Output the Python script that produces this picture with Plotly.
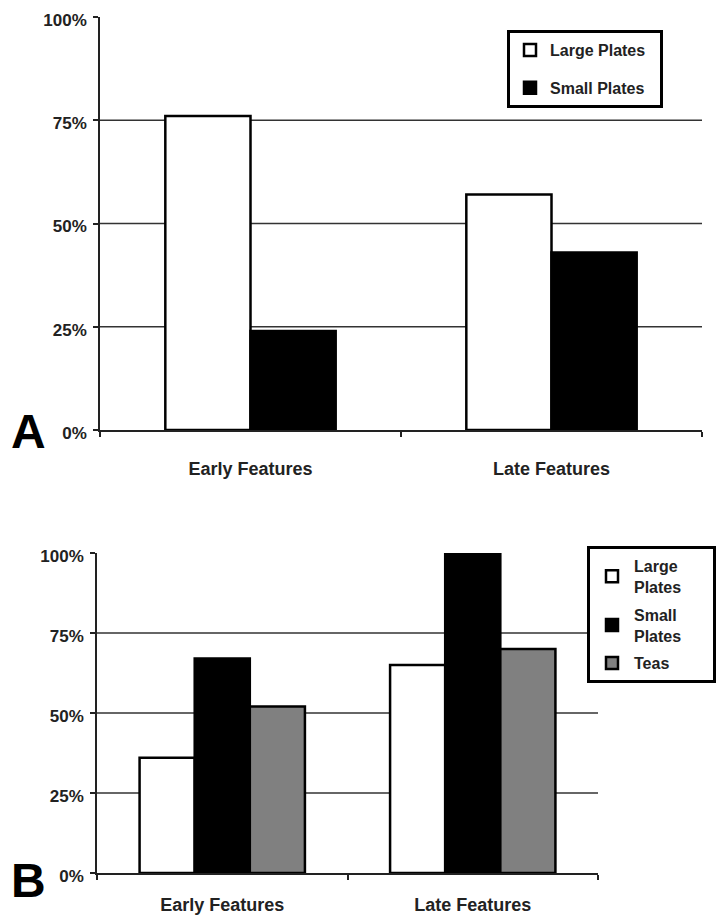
import plotly.graph_objects as go

# ---- data ----
categories = ["Early Features", "Late Features"]
a_large = [76, 57]
a_small = [24, 43]
b_large = [36, 65]
b_small = [67, 100]
b_teas = [52, 70]
y_tickvals = [0, 25, 50, 75, 100]
y_ticktext = ["0%", "25%", "50%", "75%", "100%"]
grid_vals = [25, 50, 75]

OFF = 8  # page body margin
W, H = 725 - OFF, 917 - OFF
FONT = "Liberation Sans"
TXT = "#222222"
NB = "&nbsp;"


def px_x(p):
    return (p - OFF) / W


def px_y(p):
    return 1 - (p - OFF) / H


fig = go.Figure()

wa = 0.283
fig.add_trace(go.Bar(x=categories, y=a_large, name="Large Plates", width=wa, offset=-wa,
                     marker=dict(color="white", line=dict(color="black", width=2.5)),
                     xaxis="x", yaxis="y", legend="legend", legendgroup="a1"))
fig.add_trace(go.Bar(x=categories, y=a_small, name="Small Plates", width=wa, offset=0,
                     marker=dict(color="black", line=dict(color="black", width=2.5)),
                     xaxis="x", yaxis="y", legend="legend", legendgroup="a2"))

wb = 0.22
fig.add_trace(go.Bar(x=categories, y=b_large, name="Large<br>Plates", width=wb, offset=-1.5 * wb,
                     marker=dict(color="white", line=dict(color="black", width=2.5)),
                     xaxis="x2", yaxis="y2", legend="legend2", legendgroup="b1"))
fig.add_trace(go.Bar(x=categories, y=b_small, name="Small<br>Plates", width=wb, offset=-0.5 * wb,
                     marker=dict(color="black", line=dict(color="black", width=2.5)),
                     xaxis="x2", yaxis="y2", legend="legend2", legendgroup="b2"))
fig.add_trace(go.Bar(x=categories, y=b_teas, name="Teas", width=wb, offset=0.5 * wb,
                     marker=dict(color="#808080", line=dict(color="black", width=2.5)),
                     xaxis="x2", yaxis="y2", legend="legend2", legendgroup="b3"))

for tr in fig.data:
    pad = NB * 2 if tr.legend == "legend" else NB * 6
    tr.name = "<b>" + tr.name.replace("<br>", "</b><br><b>") + "</b>" + pad

yaxis_common = dict(range=[0, 100], tickmode="array", tickvals=y_tickvals,
                    ticktext=[f"<b>{t}</b>" for t in y_ticktext],
                    showgrid=False, zeroline=False, showline=True, linecolor=TXT, linewidth=1.5,
                    ticks="outside", ticklen=5, tickwidth=1.5, tickcolor=TXT,
                    tickfont=dict(family=FONT, size=17, color=TXT), ticklabelstandoff=3,
                    ticklabelshift=3,
                    ticklabeloverflow="allow", automargin=False, fixedrange=True)
xaxis_common = dict(type="category", range=[-0.5, 1.5], showline=True, linecolor=TXT, linewidth=1.5,
                    ticks="outside", tickson="boundaries", ticklen=5, tickwidth=1.5, tickcolor=TXT,
                    showgrid=False, zeroline=False, automargin=False,
                    tickmode="array", tickvals=categories,
                    ticktext=[f"<b>{c}</b>" for c in categories],
                    tickfont=dict(family=FONT, size=18, color=TXT))

shapes = []
for yref in ["y", "y2"]:
    xref = "x domain" if yref == "y" else "x2 domain"
    for v in grid_vals:
        shapes.append(dict(type="line", xref=xref, yref=yref, x0=0, x1=1, y0=v, y1=v,
                           layer="below", line=dict(color="#333333", width=1.4)))

fig.update_layout(
    width=W, height=H,
    margin=dict(l=0, r=0, t=0, b=0, autoexpand=False),
    paper_bgcolor="white", plot_bgcolor="white",
    barmode="overlay",
    xaxis=dict(domain=[px_x(100), px_x(702)], anchor="y", ticklabelstandoff=22, **xaxis_common),
    yaxis=dict(domain=[px_y(430), px_y(17)], anchor="x", **yaxis_common),
    xaxis2=dict(domain=[px_x(97), px_x(598)], anchor="y2", ticklabelstandoff=15, **xaxis_common),
    yaxis2=dict(domain=[px_y(873), px_y(553)], anchor="x2", **yaxis_common),
    shapes=shapes,
    legend=dict(x=px_x(507), y=px_y(30), xanchor="left", yanchor="top",
                bgcolor="white", bordercolor="black", borderwidth=3,
                font=dict(family=FONT, size=16, color=TXT), tracegroupgap=14,
                itemwidth=30),
    legend2=dict(x=px_x(587), y=px_y(546), xanchor="left", yanchor="top",
                 bgcolor="white", bordercolor="black", borderwidth=3,
                 font=dict(family=FONT, size=16, color=TXT), tracegroupgap=4,
                 itemwidth=34),
    annotations=[
        dict(text="<b>A</b>", x=px_x(9), y=px_y(431), xref="paper", yref="paper",
             xanchor="left", yanchor="middle", showarrow=False,
             font=dict(family=FONT, size=48, color="black")),
        dict(text="<b>B</b>", x=px_x(9), y=px_y(880), xref="paper", yref="paper",
             xanchor="left", yanchor="middle", showarrow=False,
             font=dict(family=FONT, size=48, color="black")),
    ],
    font=dict(family=FONT, color=TXT),
)

fig.write_html("out.html")
